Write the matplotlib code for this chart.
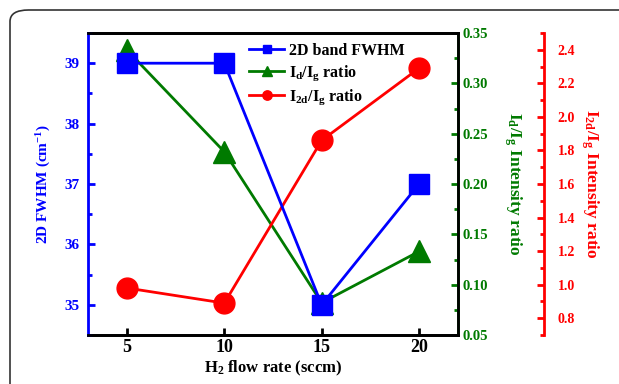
import matplotlib.pyplot as plt
import numpy as np
from matplotlib.patches import FancyBboxPatch
from matplotlib.ticker import MultipleLocator

plt.rcParams['font.family'] = ['Liberation Serif', 'DejaVu Serif']
plt.rcParams['font.weight'] = 'bold'
plt.rcParams['mathtext.fontset'] = 'custom'
plt.rcParams['mathtext.rm'] = 'Liberation Serif:bold'
plt.rcParams['mathtext.it'] = 'Liberation Serif:bold'
plt.rcParams['mathtext.bf'] = 'Liberation Serif:bold'

flow = [5, 10, 15, 20]
fwhm = [39.0, 39.0, 35.0, 37.0]
id_ig = [0.333, 0.232, 0.082, 0.133]
i2d_ig = [0.98, 0.89, 1.86, 2.29]

blue = '#0000ff'
green = '#007a00'
red = '#ff0000'

fig = plt.figure(figsize=(6.19, 3.84), dpi=100)
frame = FancyBboxPatch((10/619, -0.2), 1.2, 1 - 10/384 + 0.2,
                       boxstyle='round,pad=0,rounding_size=0.03',
                       transform=fig.transFigure, fill=False,
                       edgecolor='#333333', lw=1.2)
fig.patches.append(frame)

ax = fig.add_axes([88/619, 1 - 335/384, 370/619, 302/384])
ax2 = ax.twinx()
ax3 = ax.twinx()
ax3.spines['right'].set_position(('axes', 1.232))

l1, = ax.plot(flow, fwhm, color=blue, marker='s', ms=14, lw=2, label='2D band FWHM')
l2, = ax2.plot(flow, id_ig, color=green, marker='^', ms=16, lw=2, label='$\\mathregular{I_d/I_g}$ ratio')
l3, = ax3.plot(flow, i2d_ig, color=red, marker='o', ms=15, lw=2, label='$\\mathregular{I_{2d}/I_g}$ ratio')

ax.set_xlim(3, 22)
ax.set_ylim(34.5, 39.5)
ax2.set_ylim(0.05, 0.35)
ax3.set_ylim(0.7, 2.5)

ax.set_xticks(flow)
ax.set_yticks([35, 36, 37, 38, 39])
ax.yaxis.set_minor_locator(MultipleLocator(0.5))
ax2.set_yticks(np.arange(0.05, 0.351, 0.05))
ax2.yaxis.set_minor_locator(MultipleLocator(0.025))
ax3.set_yticks(np.arange(0.8, 2.41, 0.2))
ax3.yaxis.set_minor_locator(MultipleLocator(0.1))
ax2.set_yticklabels(['%.2f' % v for v in np.arange(0.05, 0.351, 0.05)])
ax3.set_yticklabels(['%.1f' % v for v in np.arange(0.8, 2.41, 0.2)])

for a in (ax, ax2, ax3):
    for s in a.spines.values():
        s.set_linewidth(2)
ax.spines['left'].set_color(blue)
ax2.spines['left'].set_visible(False)
ax3.spines['left'].set_visible(False)
ax2.spines['right'].set_color(green)
ax3.spines['right'].set_color(red)
ax3.spines['top'].set_visible(False)
ax3.spines['bottom'].set_visible(False)

ax.tick_params(axis='x', direction='in', length=5, width=2, labelsize=13, pad=3)
ax.tick_params(axis='y', which='both', direction='in', color=blue, width=2, labelcolor=blue,
               labelsize=11, pad=6)
ax.tick_params(axis='y', which='major', length=5)
ax.tick_params(axis='y', which='minor', length=3)
ax2.tick_params(axis='y', which='both', direction='in', color=green, width=2, labelcolor=green,
                labelsize=10.5, pad=3)
ax2.tick_params(axis='y', which='major', length=5)
ax2.tick_params(axis='y', which='minor', length=3)
ax3.tick_params(axis='y', which='both', direction='in', color=red, width=2, labelcolor=red,
                labelsize=10, pad=10)
ax3.tick_params(axis='y', which='major', length=5)
ax3.tick_params(axis='y', which='minor', length=3)

ax.set_xlabel('$\\mathregular{H_2}$ flow rate (sccm)', fontsize=12, fontweight='bold', labelpad=2)
ax.set_ylabel('2D FWHM (cm$\\mathregular{^{-1}}$)', fontsize=11, fontweight='bold', color=blue, labelpad=8)
ax2.set_ylabel('$\\mathregular{I_d/I_g}$ Intensity ratio', fontsize=12.5, fontweight='bold', color=green,
               rotation=270, labelpad=26)
ax3.set_ylabel('$\\mathregular{I_{2d}/I_g}$ Intensity ratio', fontsize=12.5, fontweight='bold', color=red,
               rotation=270, labelpad=18)

ax.set_zorder(ax3.get_zorder() + 1)
ax.patch.set_visible(False)
leg = ax.legend(handles=[l1, l2, l3], loc='upper left', bbox_to_anchor=(0.41, 1.0),
                frameon=False, fontsize=11.5, markerscale=0.45, handlelength=2.2,
                handletextpad=0.3, labelspacing=0.3, borderaxespad=0.2)

fig.savefig('out.png', dpi=100)
